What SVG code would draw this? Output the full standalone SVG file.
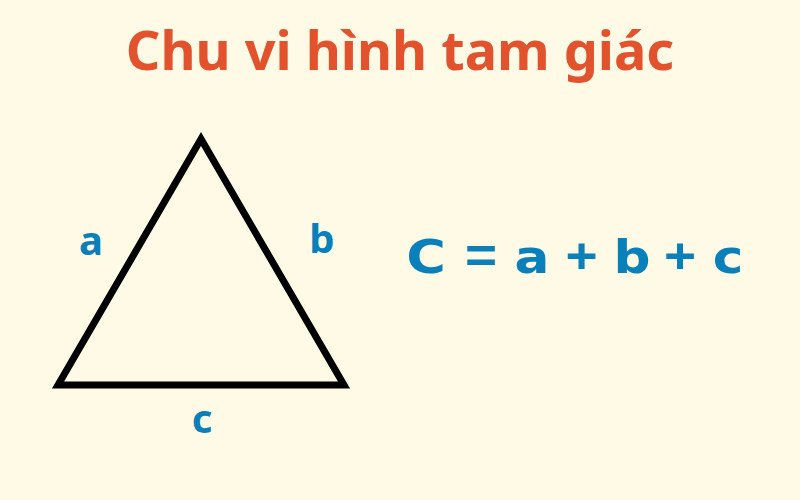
<svg xmlns="http://www.w3.org/2000/svg" width="800" height="500" viewBox="0 0 800 500">
  <style>
    .title { font-family: "Noto Sans", "Open Sans", sans-serif; font-weight: 700; font-size: 54px; fill: #E2522D; }
    .lbl { font-family: "Noto Sans", "DejaVu Sans", sans-serif; font-weight: 700; font-size: 40px; fill: #0A80BA; }
    .formula { font-family: "DejaVu Sans", "Liberation Sans", sans-serif; font-weight: 700; font-size: 47px; fill: #0A80BA; }
    .op { font-family: "Liberation Sans", Arial, sans-serif; font-weight: 700; font-size: 50px; fill: #0A80BA; }
    .tri { fill: none; stroke: #000; stroke-width: 7; stroke-linejoin: miter; }
  </style>
  <rect width="800" height="500" fill="#FEFAE6"/>
  <g id="title">
    <text class="title" x="400" y="70" text-anchor="middle">Chu vi hình tam giác</text>
  </g>
  <g id="triangle">
    <polygon class="tri" points="201,139 58,385 344,385"/>
  </g>
  <g id="label-a">
    <text class="lbl" x="91" y="255" text-anchor="middle">a</text>
  </g>
  <g id="label-b">
    <text class="lbl" x="322" y="253" text-anchor="middle">b</text>
  </g>
  <g id="label-c">
    <text class="lbl" x="202" y="433" text-anchor="middle">c</text>
  </g>
  <g id="formula">
    <text class="formula" transform="translate(426,273) scale(1.15 1)" text-anchor="middle">C</text>
    <text class="op" transform="translate(481,273) scale(1.1 1)" text-anchor="middle">=</text>
    <text class="formula" transform="translate(532,273) scale(1.1 1)" text-anchor="middle">a</text>
    <text class="op" transform="translate(581.5,273) scale(1.1 1)" text-anchor="middle">+</text>
    <text class="formula" transform="translate(632,273) scale(1.1 1)" text-anchor="middle">b</text>
    <text class="op" transform="translate(680,273) scale(1.1 1)" text-anchor="middle">+</text>
    <text class="formula" transform="translate(728,273) scale(1.1 1)" text-anchor="middle">c</text>
  </g>
</svg>
